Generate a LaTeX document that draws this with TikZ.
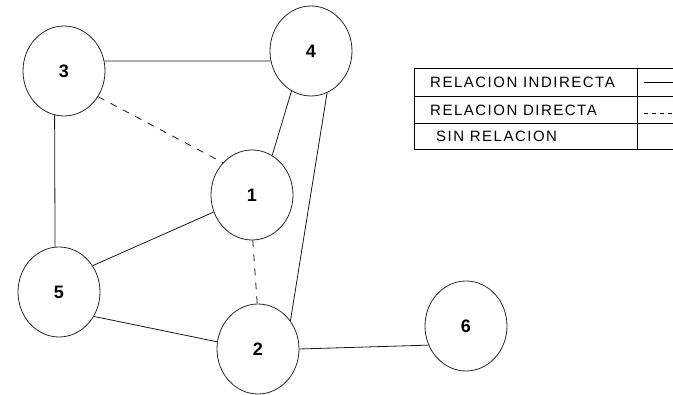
\documentclass[tikz,border=0pt]{standalone}
\usepackage{fontspec}
\setmainfont{Liberation Sans}
\newfontfamily\legendfont[LetterSpace=10]{Liberation Sans}
\usetikzlibrary{shapes.geometric, positioning, calc}

\begin{document}
\begin{tikzpicture}[x=1pt, y=-1pt,
    vertex/.style={ellipse, draw=black!85, line width=0.8pt, minimum width=82pt,
                   minimum height=90pt, inner sep=0pt,
                   font=\fontsize{18}{18}\selectfont\bfseries},
    link/.style={black!90, line width=0.8pt},
    direct/.style={link, dash pattern=on 7pt off 7pt},
    legendtext/.style={anchor=west, inner sep=0pt,
                   font=\legendfont\fontsize{15}{15}\selectfont}]

    \useasboundingbox (0,0) rectangle (673,395);

    % --- Nodes ---
    \node[vertex] (n3) at (64,71)   {3};
    \node[vertex] (n4) at (311,51)  {4};
    \node[vertex] (n1) at (252,195) {1};
    \node[vertex] (n5) at (59,292)  {5};
    \node[vertex] (n2) at (258,349) {2};
    \node[vertex] (n6) at (466,326) {6};

    % --- Indirect relations (solid) ---
    \draw[link] (n3.14) -- (n4.194);
    \draw[link] (n3.-102) -- (n5.95);
    \draw[link] (n4.-116) -- (n1.63);
    \draw[link] (n4.-69) -- (n2.41);
    \draw[link] (n1.204) -- (n5.38);
    \draw[link] (n5.-35) -- (n2.170);
    \draw[link] (n2.0) -- (n6.207);

    % --- Direct relations (dashed) ---
    \draw[direct] (n3.-37) -- (n1.132);
    \draw[direct] (n1.-89) -- (n2.91);

    % --- Legend ---
    \draw[line width=0.8pt] (673,68) -- (414,68) -- (414,149) -- (673,149);
    \draw[line width=0.8pt] (414,96) -- (673,96);
    \draw[line width=0.8pt] (414,123) -- (673,123);
    \draw[line width=0.8pt] (637,68) -- (637,149);

    \node[legendtext] (l1) at (430,82)  {RELACION INDIRECTA};
    \node[legendtext] (l2) at (430,110) {RELACION DIRECTA};
    \node[legendtext] (l3) at (436,136) {SIN RELACION};

    \draw[line width=0.8pt] (644,82) -- (673,82);
    \draw[line width=0.8pt, dash pattern=on 4pt off 4pt] (644,113) -- (673,113);

\end{tikzpicture}
\end{document}
